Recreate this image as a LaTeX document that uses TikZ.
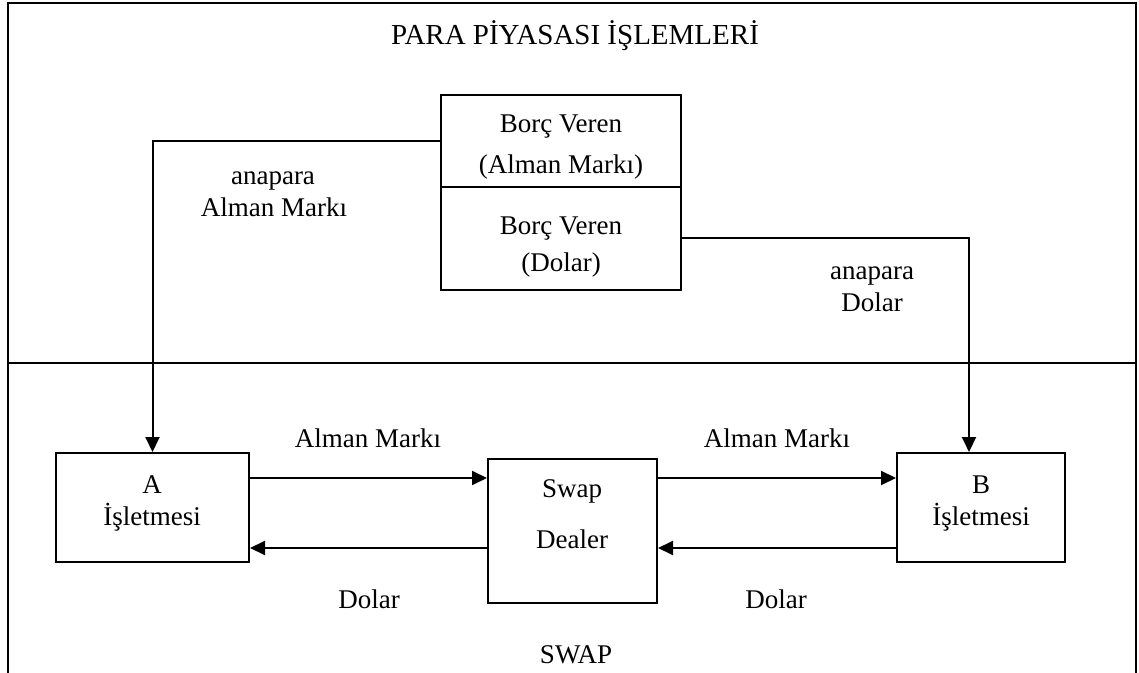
\documentclass[tikz,border=0pt]{standalone}
\usepackage{fontspec}
\setmainfont{Liberation Serif}
\usetikzlibrary{arrows.meta}
\begin{document}
\begin{tikzpicture}[x=0.5pt,y=-0.5pt, line width=1pt,
  box/.style={draw, rectangle, inner sep=0pt, line width=1pt},
  txt/.style={anchor=base, inner sep=0pt, font=\fontsize{13.5}{16}\selectfont},
  ttl/.style={anchor=base, inner sep=0pt, font=\fontsize{14.5}{17}\selectfont},
  arr/.style={-{Triangle[length=7.5pt,width=7pt]}}]
\useasboundingbox (0,0) rectangle (1139,673);
% frame
\draw (8,3) rectangle (1136,363);
\draw (8,363) -- (8,673);
\draw (1136,363) -- (1136,673);
% boxes
\node[box, minimum width=120pt, minimum height=46pt] (BA) at (561,141) {};
\node[box, minimum width=120pt, minimum height=51.5pt] (BD) at (561,238.5) {};
\node[box, minimum width=96.5pt, minimum height=54.5pt] (A) at (152.5,507.5) {};
\node[box, minimum width=84pt, minimum height=54.5pt] (B) at (981,507.5) {};
\node[box, minimum width=84.5pt, minimum height=72pt] (S) at (572.5,531) {};
% texts
\node[ttl] (title) at (575,45) {PARA PİYASASI İŞLEMLERİ};
\node[txt] (ba1) at (561,133) {Borç Veren};
\node[txt] (ba2) at (561,174) {(Alman Markı)};
\node[txt] (bd1) at (561,235) {Borç Veren};
\node[txt] (bd2) at (561,272) {(Dolar)};
\node[txt] (la1) at (273,185) {anapara};
\node[txt] (la2) at (274,217) {Alman Markı};
\node[txt] (ra1) at (872,280) {anapara};
\node[txt] (ra2) at (872,312) {Dolar};
\node[txt] (a1) at (152,493) {A};
\node[txt] (a2) at (152,525) {İşletmesi};
\node[txt] (b1) at (981,493) {B};
\node[txt] (b2) at (981,525) {İşletmesi};
\node[txt] (s1) at (572,497) {Swap};
\node[txt] (s2) at (572,548) {Dealer};
\node[txt] (m1) at (368,447) {Alman Markı};
\node[txt] (m2) at (777,447) {Alman Markı};
\node[txt] (d1) at (369,608) {Dolar};
\node[txt] (d2) at (776,608) {Dolar};
\node[txt] (swap) at (576,663) {SWAP};
% connectors
\coordinate (up) at (0,478);
\coordinate (lo) at (0,548);
\draw[arr] (BA.west) -| (A.north);
\draw[arr] (BD.east) -| ([xshift=-6pt]B.north);
\draw[arr] (A.east |- up) -- (S.west |- up);
\draw[arr] (S.east |- up) -- (B.west |- up);
\draw[arr] (S.west |- lo) -- (A.east |- lo);
\draw[arr] (B.west |- lo) -- (S.east |- lo);
\end{tikzpicture}
\end{document}
